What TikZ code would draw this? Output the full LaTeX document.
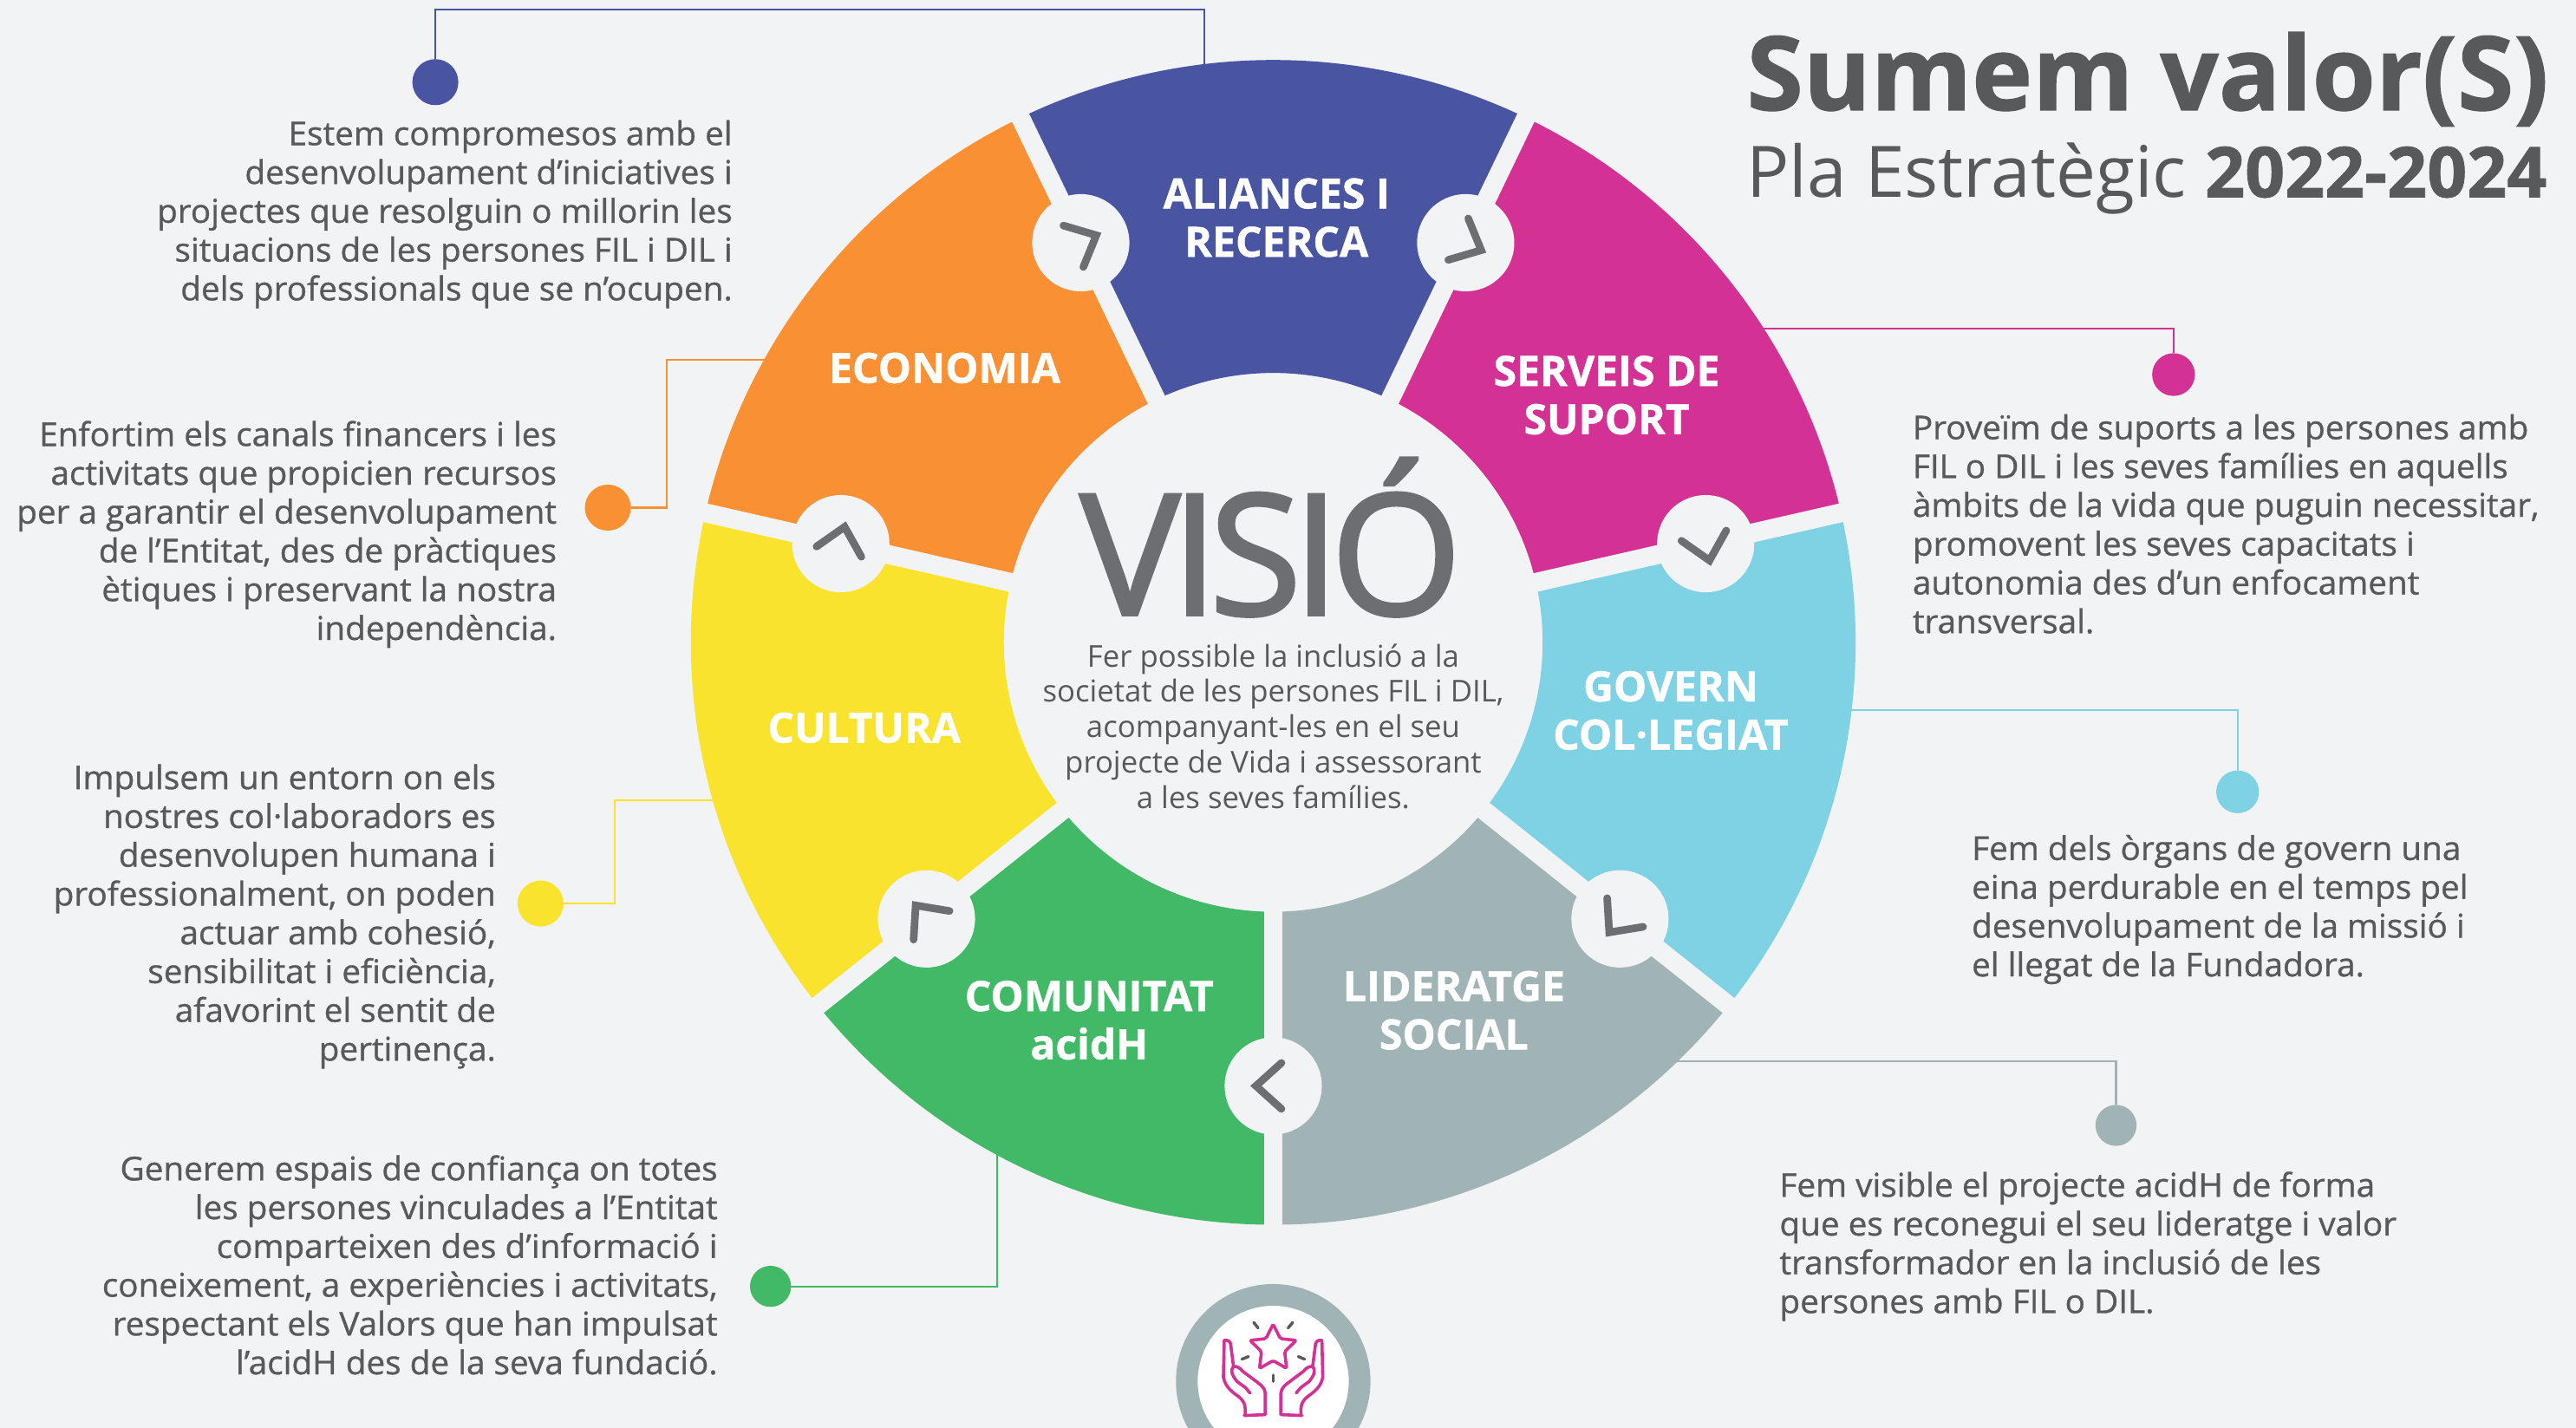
\documentclass[tikz,border=0pt]{standalone}
\usepackage{fontspec}
\setmainfont{Open Sans}
\newfontfamily\semib[FakeBold=0.9,FakeStretch=1.025]{Open Sans}
\newfontfamily\xboldf[BoldFeatures={FakeBold=1.0}]{Open Sans}
\newfontfamily\visiof[FakeBold=1.8]{Open Sans}
\newcommand\xbold{\xboldf\bfseries}
\definecolor{bgc}{HTML}{F2F3F5}
\definecolor{txt}{HTML}{58595B}
\definecolor{chev}{HTML}{6D6E71}
\definecolor{cblue}{HTML}{4A55A2}
\definecolor{cmag}{HTML}{D33194}
\definecolor{corange}{HTML}{F99134}
\definecolor{cyellow}{HTML}{F9E32D}
\definecolor{ccyan}{HTML}{7FD1E4}
\definecolor{cgrey}{HTML}{A1B4B5}
\definecolor{cgreen}{HTML}{41B967}
\tikzset{
  x=1bp,y=1bp,
  lead/.style={line width=1.1pt},
  dotn/.style={circle,minimum size=#1,inner sep=0pt,outer sep=0pt},
  seglabel/.style={text=white,font=\xbold\fontsize{25.5}{29.5}\selectfont,align=center,inner sep=0pt},
  bodyr/.style={text=txt,font=\semib\fontsize{20}{23.7}\selectfont,align=right,anchor=north east,inner sep=0pt},
  bodyl/.style={text=txt,font=\semib\fontsize{20}{23.7}\selectfont,align=left,anchor=north west,inner sep=0pt},
  gapline/.style={bgc,line width=11.5bp},
  chevron/.style={chev,line width=4.6bp,line cap=round,miter limit=10},
  handline/.style={cmag,line width=1.9bp,line join=round,line cap=round},
  rayline/.style={txt,line width=1.8bp,line cap=round},
}
\begin{document}
\begin{tikzpicture}
\useasboundingbox (0,0) rectangle (1568,-869.2);
\fill[bgc] (0,0) rectangle (1568,-869.2);
% ring
\begin{scope}[shift={(775,-391)}]
\foreach \c [count=\i from 0] in {cgrey,ccyan,cmag,cblue,corange,cyellow,cgreen}{
  \pgfmathsetmacro{\sa}{270+51.4286*\i}
  \pgfmathsetmacro{\ea}{\sa+51.4286}
  \fill[\c] (\sa:164bp) arc[start angle=\sa,end angle=\ea,radius=164bp]
     -- (\ea:354.5bp) arc[start angle=\ea,end angle=\sa,radius=354.5bp] -- cycle;
}
\foreach \i in {0,...,6}{
  \pgfmathsetmacro{\sa}{270+51.4286*\i}
  \draw[gapline] (\sa:150bp) -- (\sa:365bp);
}
\foreach \i in {0,...,6}{
  \pgfmathsetmacro{\sa}{270+51.4286*\i}
  \begin{scope}[shift={(\sa:270bp)},rotate=\sa+90]
    \fill[bgc] (0,0) circle[radius=29.6bp];
    \draw[chevron] (5,14) -- (-10.5,0) -- (5,-14);
  \end{scope}
}
\end{scope}
% dots
\node[dotn=28bp,fill=cblue] (dblue) at (265,-50) {};
\node[dotn=26bp,fill=cmag] (dmag) at (1323,-228) {};
\node[dotn=28bp,fill=corange] (dorange) at (370,-309) {};
\node[dotn=28bp,fill=cyellow] (dyellow) at (329,-550) {};
\node[dotn=26bp,fill=ccyan] (dcyan) at (1362,-482) {};
\node[dotn=25bp,fill=cgrey] (dgrey) at (1288,-685) {};
\node[dotn=25bp,fill=cgreen] (dgreen) at (469,-783) {};
% leads
\coordinate (sblue) at (733,-40);
\coordinate (sblue2) at (265,-6);
\coordinate (smag) at (1073,-200);
\coordinate (sorange) at (467,-219);
\coordinate (corange2) at (406,-309);
\coordinate (syellow) at (435,-487);
\coordinate (cyellow2) at (374,-550);
\coordinate (scyan) at (1127,-432);
\coordinate (sgrey) at (1020,-646);
\coordinate (sgreen) at (607,-702);
\coordinate (cgreen2) at (607,-783);
\draw[lead,cblue] (sblue) |- (sblue2) -- (dblue);
\draw[lead,cmag] (smag) -| (dmag);
\draw[lead,corange] (sorange) -| (corange2) -- (dorange);
\draw[lead,cyellow] (syellow) -| (cyellow2) -- (dyellow);
\draw[lead,ccyan] (scyan) -| (dcyan);
\draw[lead,cgrey] (sgrey) -| (dgrey);
\draw[lead,cgreen] (sgreen) -- (cgreen2) -- (dgreen);
% segment labels
\node[seglabel] (lblue) at (777,-132.5) {ALIANCES I\\RECERCA};
\node[seglabel] (lmag) at (978,-240.5) {SERVEIS DE\\SUPORT};
\node[seglabel] (lorange) at (575,-224) {ECONOMIA};
\node[seglabel] (lcyan) at (1017,-432.5) {GOVERN\\COL·LEGIAT};
\node[seglabel] (lyellow) at (526,-443) {CULTURA};
\node[seglabel] (lgrey) at (885,-615) {LIDERATGE\\SOCIAL};
\node[seglabel] (lgreen) at (663,-621) {COMUNITAT\\acidH};
% centre
\node[text=chev,inner sep=0pt,anchor=base,font=\visiof\fontsize{103}{103}\selectfont\addfontfeatures{LetterSpace=-5.4}] (visio) at (773.5,-374.3) {VISIÓ};
\node[text=txt,inner sep=0pt,align=center,font=\fontsize{18.4}{21.6}\selectfont,anchor=north] (vtext) at (775,-391.7) {Fer possible la inclusió a la\\societat de les persones FIL i DIL,\\acompanyant-les en el seu\\projecte de Vida i assessorant\\a les seves famílies.};
% title
\node[text=txt,inner sep=0pt,anchor=base west,font=\xbold\fontsize{62.8}{62}\selectfont] (title) at (1063,-67) {Sumem valor(S)};
\node[text=txt,inner sep=0pt,anchor=base west,font=\fontsize{43.4}{42}\selectfont] (subtitle) at (1063,-120) {Pla Estratègic {\xbold\fontsize{42.7}{42}\selectfont 2022-2024}};
% body
\node[bodyr] (t1) at (446,-73) {Estem compromesos amb el\\desenvolupament d’iniciatives i\\projectes que resolguin o millorin les\\situacions de les persones FIL i DIL i\\dels professionals que se n’ocupen.};
\node[bodyr] (t2) at (339,-256) {Enfortim els canals financers i les\\activitats que propicien recursos\\per a garantir el desenvolupament\\de l’Entitat, des de pràctiques\\ètiques i preservant la nostra\\independència.};
\node[bodyr] (t3) at (302,-465) {Impulsem un entorn on els\\nostres col·laboradors es\\desenvolupen humana i\\professionalment, on poden\\actuar amb cohesió,\\sensibilitat i eficiència,\\afavorint el sentit de\\pertinença.};
\node[bodyr] (t4) at (437,-703) {Generem espais de confiança on totes\\les persones vinculades a l’Entitat\\comparteixen des d’informació i\\coneixement, a experiències i activitats,\\respectant els Valors que han impulsat\\l’acidH des de la seva fundació.};
\node[bodyl] (t5) at (1164,-252) {Proveïm de suports a les persones amb\\FIL o DIL i les seves famílies en aquells\\àmbits de la vida que puguin necessitar,\\promovent les seves capacitats i\\autonomia des d’un enfocament\\transversal.};
\node[bodyl] (t6) at (1200,-508) {Fem dels òrgans de govern una\\eina perdurable en el temps pel\\desenvolupament de la missió i\\el llegat de la Fundadora.};
\node[bodyl] (t7) at (1083,-713) {Fem visible el projecte acidH de forma\\que es reconegui el seu lideratge i valor\\transformador en la inclusió de les\\persones amb FIL o DIL.};
% emblem
\fill[white,draw=cgrey,line width=13.2bp] (775,-840.8) circle[radius=52.6bp];
\begin{scope}[shift={(686.08,-749.4)},x=0.1759bp,y=-0.1759bp]
  \draw[handline,rounded corners=1bp] (505,322)--(530,372)--(585,378)--(545,417)--(552,475)--(505,448)--(458,475)--(465,417)--(425,378)--(480,372)--cycle;
  \foreach \m/\o in {1/0,-1/1010}{
    \begin{scope}[shift={(\o,0)},xscale=\m]
      \draw[handline] (405,638) -- (478,635) -- (478,560) .. controls (476,540) and (460,530) .. (440,515) -- (400,485) .. controls (390,472) and (380,468) .. (368,468) -- (358,390) .. controls (356,380) and (345,375) .. (336,378) -- (333,505) .. controls (338,530) and (350,548) .. (385,572) .. controls (402,585) and (412,600) .. (408,638);
      \draw[handline] (368,468) .. controls (358,480) and (360,495) .. (380,520) -- (410,542) -- (425,560);
    \end{scope}
  }
  \draw[rayline] (438,316) -- (453,335);
  \draw[rayline] (573,316) -- (557,335);
  \draw[rayline] (397,443) -- (420,434);
  \draw[rayline] (614,443) -- (592,434);
  \draw[rayline] (505,498) -- (505,520);
\end{scope}
\end{tikzpicture}
\end{document}
